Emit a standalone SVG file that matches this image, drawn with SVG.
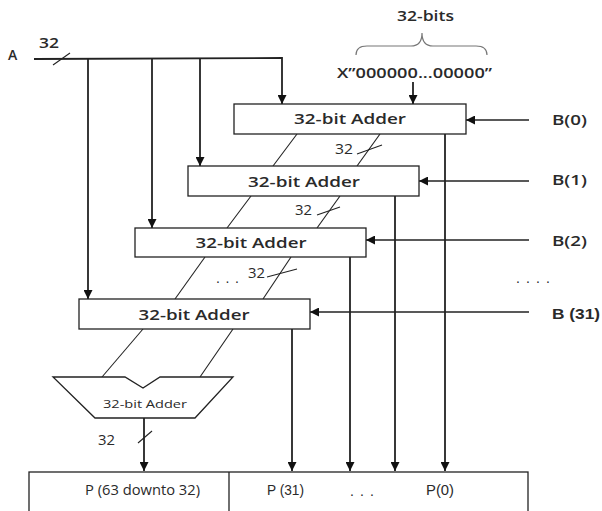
<svg xmlns="http://www.w3.org/2000/svg" width="602" height="511" viewBox="0 0 602 511">
<defs>
<marker id="arr" viewBox="0 0 10 10" refX="10" refY="5" markerWidth="9" markerHeight="9" orient="auto" markerUnits="userSpaceOnUse"><path d="M0,0 L10,5 L0,10 z" fill="#111"/></marker>
<style>
.box{fill:#fff;stroke:#222;stroke-width:1.3}
.bus{fill:none;stroke:#222;stroke-width:1.8}
.thin{fill:none;stroke:#222;stroke-width:1.1}
.bl{fill:none;stroke:#222;stroke-width:1.3}
.t{font-family:"Open Sans","Noto Sans",sans-serif;fill:#2a2a2a;font-size:14px}
.b{font-weight:600}
.a{font-family:"Liberation Sans",Arial,sans-serif;fill:#2a2a2a;font-size:14px}
.lbl{font-family:"Open Sans","Noto Sans",sans-serif;fill:#2a2a2a;font-size:15px;font-weight:600;text-anchor:middle}
.sm{font-family:"Open Sans","Noto Sans",sans-serif;fill:#2a2a2a;font-size:11px;text-anchor:middle}
</style>
</defs>
<rect width="602" height="511" fill="#fff"/>
<g id="connectors">
<path class="bus" d="M34,59 L282,58 L282,104" marker-end="url(#arr)"/>
<path class="bus" d="M200,58 L200,166" marker-end="url(#arr)"/>
<path class="bus" d="M152,58 L152,228" marker-end="url(#arr)"/>
<path class="bus" d="M88,59 L88,299" marker-end="url(#arr)"/>
<line class="thin" x1="53" y1="65" x2="70" y2="53"/>
<path class="bus" d="M413,82 L413,104" marker-end="url(#arr)"/>
<path class="bl" d="M529,120 L466,120" marker-end="url(#arr)"/>
<path class="bl" d="M529,181 L419,181" marker-end="url(#arr)"/>
<path class="bl" d="M529,240 L366,240" marker-end="url(#arr)"/>
<path class="bl" d="M529,312 L310,312" marker-end="url(#arr)"/>
<path class="bus" d="M445,134 L445,471" marker-end="url(#arr)"/>
<path class="bus" d="M395,196 L395,471" marker-end="url(#arr)"/>
<path class="bus" d="M350,257 L350,471" marker-end="url(#arr)"/>
<path class="bus" d="M292,329 L292,471" marker-end="url(#arr)"/>
<path class="bus" d="M144,418 L144,471" marker-end="url(#arr)"/>
<line class="thin" x1="138" y1="443" x2="152" y2="431"/>
<line class="thin" x1="297" y1="134" x2="273" y2="166"/>
<line class="thin" x1="251" y1="196" x2="227" y2="228"/>
<line class="thin" x1="205" y1="257" x2="175" y2="299"/>
<line class="thin" x1="143" y1="329" x2="102" y2="377"/>
<line class="thin" x1="380" y1="134" x2="357" y2="166"/>
<line class="thin" x1="340" y1="196" x2="317" y2="228"/>
<line class="thin" x1="291" y1="257" x2="263" y2="299"/>
<line class="thin" x1="233" y1="329" x2="200" y2="377"/>
<line class="thin" x1="357" y1="154" x2="382" y2="145"/>
<line class="thin" x1="317" y1="215" x2="340" y2="207"/>
<line class="thin" x1="267" y1="277" x2="297" y2="269"/>
<path d="M356,55 Q356,46 367,46 L411,46 Q422,46 422,33 Q422,46 433,46 L476,46 Q487,46 487,55" fill="none" stroke="#777" stroke-width="1.2"/>
</g>
<g id="labels">
<text class="t b" x="8" y="60" font-size="15">A</text>
<text class="t b" x="39" y="48" textLength="20" lengthAdjust="spacingAndGlyphs">32</text>
<text class="t b" x="397" y="21" textLength="57" lengthAdjust="spacingAndGlyphs">32-bits</text>
<text class="t b" x="337" y="78" textLength="155" lengthAdjust="spacingAndGlyphs">X”000000...00000”</text>
<text class="t b" x="552" y="125" textLength="35" lengthAdjust="spacingAndGlyphs">B(0)</text>
<text class="t b" x="552" y="185" textLength="35" lengthAdjust="spacingAndGlyphs">B(1)</text>
<text class="t b" x="552" y="246" textLength="35" lengthAdjust="spacingAndGlyphs">B(2)</text>
<text class="a" x="516" y="283" textLength="34" lengthAdjust="spacing">....</text>
<text class="a" x="552" y="319" font-weight="bold" textLength="48" lengthAdjust="spacingAndGlyphs">B (31)</text>
<text class="t" x="335" y="154" font-size="13" textLength="18" lengthAdjust="spacingAndGlyphs">32</text>
<text class="t" x="295" y="215" font-size="13" textLength="17" lengthAdjust="spacingAndGlyphs">32</text>
<text class="t" x="248" y="278" font-size="13" textLength="17" lengthAdjust="spacingAndGlyphs">32</text>
<text class="a" x="216" y="283" textLength="23" lengthAdjust="spacing">...</text>
<text class="t" x="98" y="445" textLength="17" lengthAdjust="spacingAndGlyphs">32</text>
</g>
<g id="adder1">
<rect class="box" x="234" y="104" width="232" height="30"/>
<text class="lbl" x="350" y="124" textLength="112" lengthAdjust="spacingAndGlyphs">32-bit Adder</text>
</g>
<g id="adder2">
<rect class="box" x="188" y="166" width="231" height="30"/>
<text class="lbl" x="304" y="187" textLength="112" lengthAdjust="spacingAndGlyphs">32-bit Adder</text>
</g>
<g id="adder3">
<rect class="box" x="135" y="228" width="231" height="29"/>
<text class="lbl" x="251" y="248" textLength="111" lengthAdjust="spacingAndGlyphs">32-bit Adder</text>
</g>
<g id="adder4">
<rect class="box" x="79" y="299" width="231" height="30"/>
<text class="lbl" x="194" y="320" textLength="111" lengthAdjust="spacingAndGlyphs">32-bit Adder</text>
</g>
<g id="final-adder">
<path class="box" d="M53,377 L125,377 L143,388 L160,377 L233,377 L195,418 L95,418 Z"/>
<text class="sm" x="145" y="408" textLength="84" lengthAdjust="spacingAndGlyphs">32-bit Adder</text>
</g>
<g id="product">
<rect class="box" x="29" y="472" width="499" height="45"/>
<line x1="229" y1="472" x2="229" y2="511" stroke="#222" stroke-width="1.3"/>
<text class="t" x="85" y="495" textLength="115" lengthAdjust="spacingAndGlyphs">P (63 downto 32)</text>
<text class="a" x="267" y="495" font-size="13" textLength="37" lengthAdjust="spacingAndGlyphs">P (31)</text>
<text class="a" x="350" y="496" textLength="24" lengthAdjust="spacing">...</text>
<text class="a" x="426" y="495" font-size="13" textLength="28" lengthAdjust="spacingAndGlyphs">P(0)</text>
</g>
</svg>
